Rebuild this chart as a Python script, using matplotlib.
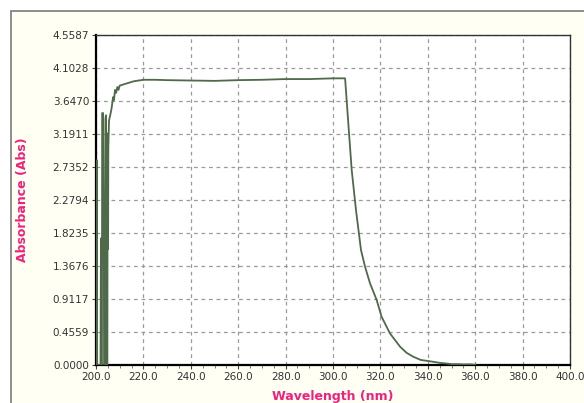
import numpy as np
import matplotlib
matplotlib.use("Agg")
import matplotlib.pyplot as plt
from matplotlib.patches import Rectangle
from matplotlib.ticker import MultipleLocator, FixedLocator

# ---- data ----
wavelength = [200.2, 200.35, 200.5, 201.9, 202.1, 202.15, 202.5, 202.6, 203.0, 203.3,
              203.4, 203.9, 204.0, 204.2, 204.4, 204.6, 204.8, 204.9, 205.0, 205.1,
              205.2, 205.5, 206.0, 206.6, 207.2, 207.6, 208.0, 208.5, 209.0, 209.5,
              210.0, 211.0, 212.0, 214.0, 216.0, 218.0, 220.0, 225.0, 230.0, 240.0,
              250.0, 260.0, 270.0, 280.0, 290.0, 300.0, 305.1, 306.5, 307.9, 309.7,
              311.8, 313.5, 315.6, 318.4, 320.5, 324.0, 328.3, 331.0, 333.8, 337.0,
              342.0, 345.0, 348.0, 350.0, 353.0, 355.0, 358.0, 360.0]
absorbance = [0.0, 2.83, 0.0, 0.0, 1.75, 0.0, 0.0, 3.48, 3.48, 1.75,
              0.0, 0.0, 3.40, 3.45, 1.60, 0.0, 0.0, 2.90, 3.20, 1.60,
              3.00, 3.38, 3.45, 3.55, 3.70, 3.66, 3.80, 3.76, 3.84, 3.80,
              3.86, 3.87, 3.88, 3.90, 3.92, 3.93, 3.94, 3.94, 3.935, 3.93,
              3.925, 3.935, 3.94, 3.95, 3.95, 3.96, 3.96, 3.32, 2.69, 2.14,
              1.59, 1.36, 1.13, 0.90, 0.667, 0.438, 0.253, 0.17, 0.115, 0.07,
              0.046, 0.03, 0.02, 0.012, 0.012, 0.008, 0.01, 0.003]

y_ticks = [0.0, 0.4559, 0.9117, 1.3676, 1.8235, 2.2794, 2.7352, 3.1911, 3.6470, 4.1028, 4.5587]
x_ticks = np.arange(200, 401, 20)

pink = '#F2207A'
line_col = '#4E6A48'
tick_col = '#333333'

fig = plt.figure(figsize=(5.84, 4.03), dpi=100)
fig.patch.set_facecolor('white')

# outer panel (cream with gray frame), runs off right/bottom edge
frame = Rectangle((11 / 584, -0.2), 1.2, 1 - 11 / 403 + 0.2, transform=fig.transFigure,
                  facecolor='#FFFFF4', edgecolor='#7A7A7A', lw=1.2, zorder=-5)
fig.add_artist(frame)

ax = fig.add_axes([96 / 584, 38 / 403, (570 - 96) / 584, (365 - 35) / 403])
ax.set_zorder(2)
ax.set_facecolor('white')

ax.plot(wavelength, absorbance, color=line_col, lw=1.3, zorder=3)

ax.set_xlim(200, 400)
ax.set_ylim(0, 4.5587)
ax.xaxis.set_major_locator(FixedLocator(x_ticks))
ax.xaxis.set_minor_locator(MultipleLocator(5))
ax.yaxis.set_major_locator(FixedLocator(y_ticks))
ax.set_xticklabels([f'{v:.1f}' for v in x_ticks])
ax.set_yticklabels([f'{v:.4f}' for v in y_ticks])

ax.grid(True, which='major', color='#9A9A9A', linestyle=(0, (3, 3)), lw=0.9, zorder=1)
ax.tick_params(axis='both', which='major', direction='out', length=3, width=0.8,
               labelsize=7.5, labelcolor=tick_col, color='#444444', pad=2)
ax.tick_params(axis='x', which='minor', direction='out', length=2, width=0.6, color='#666666')

for side in ['left', 'bottom']:
    ax.spines[side].set_linewidth(1.6)
    ax.spines[side].set_color('black')
for side in ['top', 'right']:
    ax.spines[side].set_linewidth(1.0)
    ax.spines[side].set_color('#333333')

# the reference crops the x label at the bottom edge; keep it just a bit higher
ax.set_xlabel('Wavelength (nm)', color=pink, fontsize=9, fontweight='bold', labelpad=6)
ax.set_ylabel('Absorbance (Abs)', color=pink, fontsize=9, fontweight='bold', labelpad=17)

fig.savefig('out.png', dpi=100)
